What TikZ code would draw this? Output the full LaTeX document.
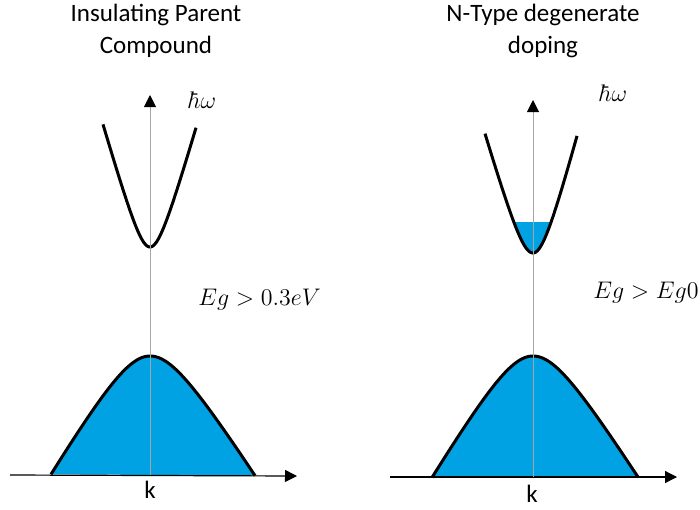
\documentclass[tikz,border=0pt]{standalone}
\usepackage{fontspec}
\setmainfont{Carlito}
\usetikzlibrary{arrows.meta}
\definecolor{bandblue}{RGB}{0,162,228}

\begin{document}
\begin{tikzpicture}[x=0.5pt,y=-0.5pt,
        axis/.style={line width=0.6pt,-{Triangle[length=6pt,width=6pt,color=black]}},
        band/.style={line width=1.5pt,smooth,samples=80},
        title/.style={align=center,font=\fontsize{12.5}{16}\selectfont,inner sep=0pt},
        lbl/.style={font=\fontsize{11.5}{13}\selectfont,inner sep=0pt}]
    \useasboundingbox (0,0) rectangle (700,509);
    % Insulating parent compound:
    \coordinate (xa1) at (10,475);
    \coordinate (xb1) at (297,476);
    \coordinate (ya1) at (150,475);
    \coordinate (yb1) at (150,95);
    \filldraw[band,fill=bandblue]
        plot[domain=-99:0] ({150+\x},{356+1.69*(sqrt(1225+\x*\x)-35)})
        -- plot[domain=0:105] ({150+\x},{356+1.58*(sqrt(1225+\x*\x)-35)});
    \draw[band] plot[domain=-47:46] ({150+\x},{247-3.5*(sqrt(196+\x*\x)-14)});
    \draw[axis] (xa1) -- (xb1);
    \draw[axis,draw=gray!70,line width=0.5pt] (ya1) -- (yb1);
    \node[title,anchor=north] (t1) at (156,4) {Insulating Parent\\Compound};
    \node[lbl] (w1) at (203,100) {$\hbar\omega$};
    \node[lbl,anchor=base west] (g1) at (198,305) {$Eg > 0.3eV$};
    \node[title,anchor=base] (k1) at (150,498) {k};

    % N-type degenerate doping:
    \coordinate (xa2) at (390,477);
    \coordinate (xb2) at (677,477);
    \coordinate (ya2) at (533,477);
    \coordinate (yb2) at (533,100);
    \filldraw[band,fill=bandblue]
        plot[domain=-101:0] ({533+\x},{356+1.69*(sqrt(1225+\x*\x)-35)})
        -- plot[domain=0:105] ({533+\x},{356+1.6*(sqrt(1225+\x*\x)-35)});
    \begin{scope}
        \clip plot[smooth,samples=80,domain=-48:0] ({533+\x},{253-3.45*(sqrt(256+\x*\x)-16)})
            -- plot[smooth,samples=80,domain=0:44] ({533+\x},{253-3.8*(sqrt(256+\x*\x)-16)}) -- cycle;
        \fill[bandblue] (480,222) rectangle (590,262);
    \end{scope}
    \draw[band] plot[domain=-48:0] ({533+\x},{253-3.45*(sqrt(256+\x*\x)-16)})
        -- plot[domain=0:44] ({533+\x},{253-3.8*(sqrt(256+\x*\x)-16)});
    \draw[axis] (xa2) -- (xb2);
    \draw[axis,draw=gray!70,line width=0.5pt] (ya2) -- (yb2);
    \node[title,anchor=north] (t2) at (543,4) {N-Type degenerate\\doping};
    \node[lbl] (w2) at (614,93) {$\hbar\omega$};
    \node[lbl,anchor=base west] (g2) at (593,298) {$Eg > Eg0$};
    \node[title,anchor=base] (k2) at (532,502) {k};
\end{tikzpicture}
\end{document}
